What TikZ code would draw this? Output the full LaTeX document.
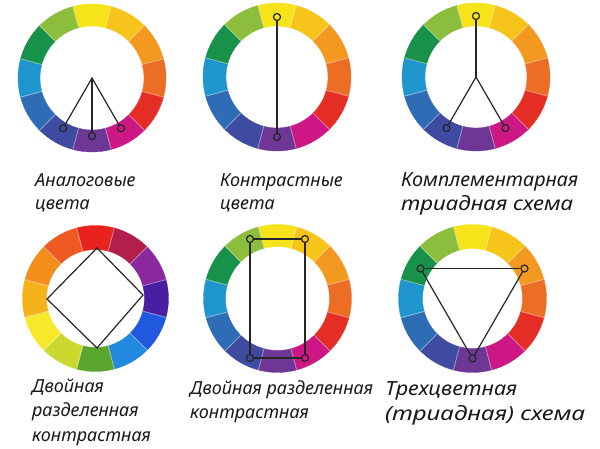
\documentclass[tikz,border=0pt]{standalone}
\usepackage{fontspec}
\setmainfont{Noto Sans}
\usetikzlibrary{calc}
% standard wheel colours (clockwise from top)
\definecolor{sA}{HTML}{F6E31A}
\definecolor{sB}{HTML}{F7C41C}
\definecolor{sC}{HTML}{F3991F}
\definecolor{sD}{HTML}{EC6D24}
\definecolor{sE}{HTML}{E42E25}
\definecolor{sF}{HTML}{CD1784}
\definecolor{sG}{HTML}{6E3795}
\definecolor{sH}{HTML}{3F4AA1}
\definecolor{sI}{HTML}{2F6CB6}
\definecolor{sJ}{HTML}{1F95CD}
\definecolor{sK}{HTML}{18924A}
\definecolor{sL}{HTML}{8CBD3C}
% second wheel colours
\definecolor{rA}{HTML}{E8231D}
\definecolor{rB}{HTML}{B21F4B}
\definecolor{rC}{HTML}{8A28A0}
\definecolor{rD}{HTML}{4A1EA2}
\definecolor{rE}{HTML}{2058DE}
\definecolor{rF}{HTML}{2289E0}
\definecolor{rG}{HTML}{5AA62E}
\definecolor{rH}{HTML}{CBD92F}
\definecolor{rI}{HTML}{F7E829}
\definecolor{rJ}{HTML}{F6B21B}
\definecolor{rK}{HTML}{F38E1C}
\definecolor{rL}{HTML}{EE5A21}
\newcommand\fitw[2]{\resizebox{#1}{\height}{#2}}
\newcommand\drawwheel[4]{%
  \foreach \c [count=\i from 0] in {#4} {
    \pgfmathsetmacro\aa{90-30*\i+15}
    \pgfmathsetmacro\ab{90-30*\i-15}
    \path[fill=\c,draw=\c,line width=0.3pt] ($(#1)+(\aa:#3)$) arc[start angle=\aa,end angle=\ab,radius=#3]
      -- ($(#1)+(\ab:#2)$) arc[start angle=\ab,end angle=\aa,radius=#2] -- cycle;
  }
  \foreach \k in {0,...,11} {
    \pgfmathsetmacro\aa{15+30*\k}
    \draw[sepline] ($(#1)+(\aa:#2)$) -- ($(#1)+(\aa:#3)$);
  }}
\begin{document}
\begin{tikzpicture}[x=1pt,y=-1pt,
  dot/.style={circle,draw=black!85,line width=1.2pt,inner sep=0pt,minimum size=7pt},
  link/.style={draw=black!85,line width=1.2pt},
  lbl/.style={anchor=base west,inner sep=0pt,font=\itshape\fontsize{18}{22}\selectfont,text=black!90},
  lblbig/.style={lbl,font=\itshape\fontsize{19.5}{23}\selectfont},
  sepline/.style={draw=white,draw opacity=0.4,line width=0.9pt}]
\useasboundingbox[fill=white] (0,0) rectangle (600,449);
% centres
\coordinate (W1) at (92,78);
\coordinate (W2) at (277,77);
\coordinate (W3) at (476,77);
\coordinate (W4) at (95.5,298.5);
\coordinate (W5) at (277.5,298.5);
\coordinate (W6) at (472.5,298.5);
\drawwheel{W1}{52pt}{74pt}{sA,sB,sC,sD,sE,sF,sG,sH,sI,sJ,sK,sL}
\drawwheel{W2}{51pt}{74pt}{sA,sB,sC,sD,sE,sF,sG,sH,sI,sJ,sK,sL}
\drawwheel{W3}{51pt}{74pt}{sA,sB,sC,sD,sE,sF,sG,sH,sI,sJ,sK,sL}
\drawwheel{W4}{49pt}{73pt}{rA,rB,rC,rD,rE,rF,rG,rH,rI,rJ,rK,rL}
\drawwheel{W5}{52pt}{74pt}{sA,sB,sC,sD,sE,sF,sG,sH,sI,sJ,sK,sL}
\drawwheel{W6}{50pt}{74pt}{sA,sB,sC,sD,sE,sF,sG,sH,sI,sJ,sK,sL}
% wheel 1: analogous
\node[dot] (a1) at ($(W1)+(-120:58pt)$) {};
\node[dot] (a2) at ($(W1)+(-90:58pt)$) {};
\node[dot] (a3) at ($(W1)+(-60:58pt)$) {};
\draw[link] (a1) -- (W1) -- (a3);
\draw[link] (W1) -- (a2);
% wheel 2: contrast
\node[dot] (b1) at ($(W2)+(90:60pt)$) {};
\node[dot] (b2) at ($(W2)+(-90:60pt)$) {};
\draw[link] (b1) -- (b2);
% wheel 3: split complementary
\node[dot] (c1) at ($(W3)+(90:61pt)$) {};
\node[dot] (c2) at ($(W3)+(-120:59pt)$) {};
\node[dot] (c3) at ($(W3)+(-60:59pt)$) {};
\draw[link] (c1) -- (W3);
\draw[link] (c2) -- (W3) -- (c3);
% wheel 4: square
\coordinate (d1) at (97,248);
\coordinate (d2) at (143,295);
\coordinate (d3) at (97,348);
\coordinate (d4) at (47,299);
\draw[link,line join=miter] (d1) -- (d2) -- (d3) -- (d4) -- cycle;
% wheel 5: rectangle
\node[dot] (e1) at (250,239) {};
\node[dot] (e2) at (305,239) {};
\node[dot] (e3) at (305,358) {};
\node[dot] (e4) at (250,358) {};
\draw[link] (e1) -- (e2);
\draw[link] (e2) -- (e3);
\draw[link] (e3) -- (e4);
\draw[link] (e4) -- (e1);
% wheel 6: triad
\node[dot] (f1) at ($(W6)+(150:60pt)$) {};
\node[dot] (f2) at ($(W6)+(30:60pt)$) {};
\node[dot] (f3) at ($(W6)+(-90:60pt)$) {};
\draw[link] (f1) -- (f2);
\draw[link] (f2) -- (f3);
\draw[link] (f3) -- (f1);
% labels
\node[lbl] (t1a) at (35,187) {Аналоговые};
\node[lbl] (t1b) at (35,210) {цвета};
\node[lbl] (t2a) at (220,187) {Контрастные};
\node[lbl] (t2b) at (220,210) {цвета};
\node[lblbig] (t3a) at (401,187) {\fitw{177pt}{Комплементарная}};
\node[lblbig] (t3b) at (401,211) {\fitw{172pt}{триадная схема}};
\node[lbl] (t4a) at (32,392) {Двойная};
\node[lbl] (t4b) at (32,416) {разделенная};
\node[lbl] (t4c) at (32,441) {контрастная};
\node[lbl] (t5a) at (190,394) {Двойная разделенная};
\node[lbl] (t5b) at (190,418) {контрастная};
\node[lblbig] (t6a) at (385,395) {\fitw{132pt}{Трехцветная}};
\node[lblbig] (t6b) at (385,420) {\fitw{200pt}{(триадная) схема}};
\end{tikzpicture}
\end{document}
